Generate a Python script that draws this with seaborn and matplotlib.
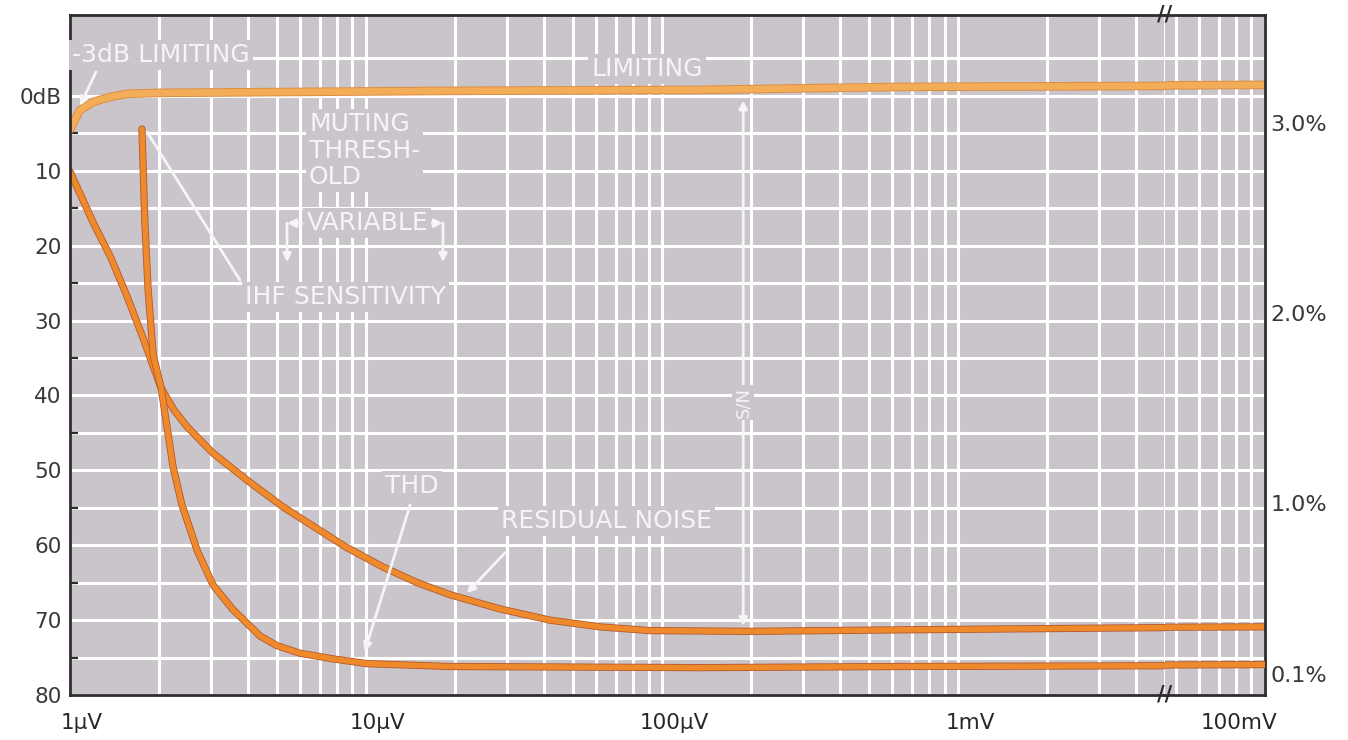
import seaborn as sns
import matplotlib.pyplot as plt
import matplotlib.ticker as mticker
import matplotlib.transforms as mtransforms
import matplotlib.patheffects as pe

sns.set_style("white")
plt.rcParams['font.family'] = ['DejaVu Sans']

# input level (µV) and curves
limit_uv = [1.0, 1.08, 1.2, 1.37, 1.56, 2.0, 19.2, 134, 637, 5000, 46000, 100000]
limit_db = [4.5, 1.9, 0.8, 0.13, -0.27, -0.4, -0.67, -0.8, -1.2, -1.33, -1.4, -1.47]

noise_uv = [1.0, 1.2, 1.37, 1.56, 1.76, 2.03, 2.25, 2.49, 3.04, 3.96, 5.25, 6.84, 8.6,
            11.4, 14.9, 19.2, 28.3, 41.8, 61.7, 91, 198, 637, 5000, 46000, 100000]
noise_db = [10.1, 17.0, 21.5, 26.8, 32.2, 39.0, 42.0, 44.2, 47.7, 51.3, 54.9, 57.8, 60.3,
            62.9, 65.0, 66.6, 68.5, 70.0, 70.9, 71.4, 71.5, 71.3, 71.0, 70.95, 70.9]

thd_uv = [1.75, 1.79, 1.835, 1.91, 2.03, 2.23, 2.39, 2.69, 3.04, 3.55, 4.39, 5.0, 5.98,
          7.75, 10.1, 19.2, 134, 637, 5000, 46000, 100000]
thd_pct = [2.97, 2.48, 2.13, 1.78, 1.61, 1.19, 0.99, 0.75, 0.57, 0.44, 0.30, 0.25, 0.21,
           0.18, 0.155, 0.14, 0.134, 0.14, 0.144, 0.148, 0.15]

db_ticks = [0, 10, 20, 30, 40, 50, 60, 70, 80]
db_labels = ["0dB", "10", "20", "30", "40", "50", "60", "70", "80"]
db_minor = [-5, 5, 15, 25, 35, 45, 55, 65, 75]
pct_ticks = [3.0, 2.0, 1.0, 0.1]
pct_labels = ["3.0%", "2.0%", "1.0%", "0.1%"]
x_ticks_left = [1, 10, 100, 1000]
x_labels_left = ["1µV", "10µV", "100µV", "1mV"]
x_ticks_right = [100000]
x_labels_right = ["100mV"]

BG = "#c9c5cb"
GRID = "#ffffff"
INK = "#2e2b2e"
ORANGE = "#ee8a2c"
ORANGE_EDGE = "#b4582c"
LIGHT_ORANGE = "#f3ad58"
TXT = "#f6f4f6"

fig = plt.figure(figsize=(13.48, 7.40), dpi=100)
W, H = 1348, 740
ax_l = fig.add_axes([70 / W, 45 / H, 1095 / W, 680 / H])
ax_r = fig.add_axes([1165 / W, 45 / H, 100 / W, 680 / H])

for ax in (ax_l, ax_r):
    ax.set_facecolor(BG)
    ax.set_xscale("log")
    ax.set_ylim(80, -10.8)
    ax.yaxis.set_major_locator(mticker.FixedLocator(db_ticks))
    ax.yaxis.set_minor_locator(mticker.FixedLocator(db_minor))
    ax.xaxis.set_minor_locator(mticker.LogLocator(base=10, subs=range(2, 10), numticks=50))
    ax.xaxis.set_minor_formatter(mticker.NullFormatter())
    ax.grid(True, which="both", color=GRID, lw=2.2)
    ax.set_axisbelow(True)
    for s in ax.spines.values():
        s.set_color(INK)
        s.set_linewidth(2)

ax_l.spines["right"].set_visible(False)
ax_r.spines["left"].set_visible(False)

twins = []
for ax in (ax_l, ax_r):
    tw = ax.twinx()
    tw.set_ylim(-0.01, 3.57)
    for s in tw.spines.values():
        s.set_visible(False)
    twins.append(tw)
tw_l, tw_r = twins

# curves
edge = [pe.Stroke(linewidth=5.2, foreground=ORANGE_EDGE), pe.Normal()]
edge_light = [pe.Stroke(linewidth=6.2, foreground="#dc8e44"), pe.Normal()]
for ax, tw in ((ax_l, tw_l), (ax_r, tw_r)):
    sns.lineplot(x=limit_uv, y=limit_db, ax=ax, color=LIGHT_ORANGE, lw=4.8,
                 path_effects=edge_light, legend=False)
    sns.lineplot(x=noise_uv, y=noise_db, ax=ax, color=ORANGE, lw=4.0,
                 path_effects=edge, legend=False)
    sns.lineplot(x=thd_uv, y=thd_pct, ax=tw, color=ORANGE, lw=4.0,
                 path_effects=edge, legend=False)
    ax.set_xlabel("")
    ax.set_ylabel("")
    tw.set_ylabel("")

ax_l.set_xlim(1.0, 5000)
ax_r.set_xlim(46000, 100000)

# ticks
ax_l.set_yticks(db_ticks, db_labels)
ax_l.tick_params(axis="y", which="major", length=0, pad=6, labelsize=15.5, labelcolor="#3a373a")
ax_l.tick_params(axis="y", which="minor", direction="in", length=6, width=1.6, color=INK)
ax_r.tick_params(axis="y", which="both", left=False, labelleft=False)

ax_l.xaxis.set_major_locator(mticker.FixedLocator(x_ticks_left))
ax_l.set_xticklabels(x_labels_left)
ax_r.xaxis.set_major_locator(mticker.FixedLocator(x_ticks_right))
ax_r.set_xticklabels(x_labels_right)
for ax in (ax_l, ax_r):
    ax.tick_params(axis="x", which="both", length=0, pad=13, labelsize=15.5, labelcolor="#2a272a")
shift = mtransforms.ScaledTranslation(12 / 100, 0, fig.dpi_scale_trans)
for lab in ax_l.get_xticklabels():
    lab.set_transform(lab.get_transform() + shift)
for lab in ax_r.get_xticklabels():
    lab.set_ha("right")
    lab.set_transform(lab.get_transform() + shift)

for tw in twins:
    tw.tick_params(axis="x", which="both", length=0, labelbottom=False, labeltop=False)
tw_l.set_yticks([])
tw_l.tick_params(axis="y", length=0, labelright=False)
tw_r.set_yticks(pct_ticks, pct_labels)
tw_r.tick_params(axis="y", length=0, pad=4, labelsize=16, labelcolor="#3a373a")

# break marks
for yy in (1, 0):
    ax_r.text(0, yy, "//", transform=ax_r.transAxes, ha="center", va="center",
              fontsize=15, fontweight="bold", color=INK, zorder=10)

# annotations
box = dict(boxstyle="square,pad=0.12", fc=BG, ec="none")
tkw = dict(color=TXT, fontsize=18, bbox=box, zorder=6)
arw = dict(arrowstyle="-|>", color=TXT, lw=2, mutation_scale=12, shrinkA=0, shrinkB=0)
line = dict(arrowstyle="-", color=TXT, lw=2, shrinkA=0, shrinkB=0)

ax_l.text(1.016, -5.5, "-3dB LIMITING", ha="left", va="center", **tkw)
ax_l.annotate("", xy=(1.081, 1.33), xytext=(1.224, -3.2), arrowprops=arw)
ax_l.text(89, -3.6, "LIMITING", ha="center", va="center", **tkw)
ax_l.text(6.42, 7.3, "MUTING\nTHRESH-\nOLD", ha="left", va="center", linespacing=1.15, **tkw)

ax_l.annotate("", xy=(5.41, 17.0), xytext=(18.2, 17.0),
              arrowprops=dict(arw, arrowstyle="<|-|>"))
ax_l.annotate("", xy=(5.41, 22.2), xytext=(5.41, 17.0), arrowprops=arw)
ax_l.annotate("", xy=(18.2, 22.2), xytext=(18.2, 17.0), arrowprops=arw)
ax_l.text(10.1, 17.0, "VARIABLE", ha="center", va="center", **tkw)

ax_l.annotate("", xy=(1.82, 4.8), xytext=(3.75, 24.6), arrowprops=line)
ax_l.text(8.5, 26.8, "IHF SENSITIVITY", ha="center", va="center", **tkw)

ax_l.text(14.3, 52.1, "THD", ha="center", va="center", **tkw)
ax_l.annotate("", xy=(9.9, 74.2), xytext=(14.1, 54.6), arrowprops=arw)
ax_l.text(65.0, 56.7, "RESIDUAL NOISE", ha="center", va="center", **tkw)
ax_l.annotate("", xy=(21.9, 66.4), xytext=(29.5, 61.0), arrowprops=arw)

ax_l.annotate("", xy=(188, 0.6), xytext=(188, 70.8),
              arrowprops=dict(arw, arrowstyle="<|-|>"))
ax_l.text(188, 40.9, "S/N", ha="center", va="center", rotation=90,
          color=TXT, fontsize=13, bbox=box, zorder=6)

fig.savefig("out.png", dpi=100, facecolor="white")
